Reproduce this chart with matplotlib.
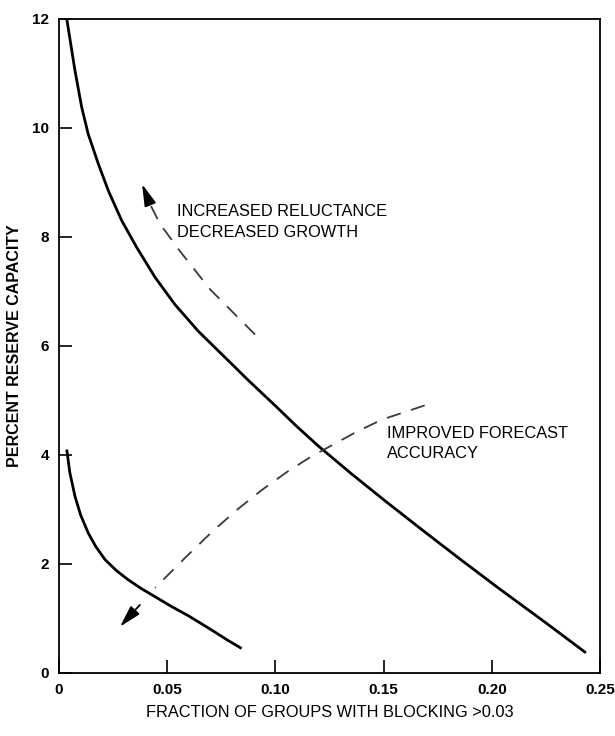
import matplotlib
matplotlib.use('Agg')
import matplotlib.pyplot as plt

plt.rcParams['font.family'] = ['Liberation Sans', 'DejaVu Sans']

# upper curve
main_x = [0.0036, 0.0074, 0.0105, 0.0135, 0.0182, 0.0228, 0.0290, 0.0359, 0.0444,
          0.0536, 0.0644, 0.0752, 0.0875, 0.0998, 0.1100, 0.1200, 0.135, 0.150,
          0.168, 0.185, 0.2037, 0.225, 0.2435]
main_y = [12.0, 11.05, 10.38, 9.89, 9.34, 8.85, 8.30, 7.81, 7.26,
          6.76, 6.27, 5.85, 5.37, 4.91, 4.52, 4.16, 3.66, 3.18,
          2.62, 2.10, 1.54, 0.92, 0.37]

# lower curve
low_x = [0.0036, 0.0050, 0.0074, 0.0100, 0.0135, 0.0170, 0.0213, 0.0265, 0.0320,
         0.038, 0.0444, 0.052, 0.0598, 0.066, 0.0721, 0.078, 0.0844]
low_y = [4.10, 3.68, 3.24, 2.90, 2.57, 2.32, 2.08, 1.88, 1.71,
         1.55, 1.40, 1.22, 1.05, 0.90, 0.75, 0.60, 0.45]

# dashed arrow paths
up_x = [0.0906, 0.0698, 0.0559, 0.0467, 0.0421]
up_y = [6.21, 7.04, 7.74, 8.24, 8.60]
up_tip = (0.0384, 8.97)

dn_x = [0.169, 0.1645, 0.1493, 0.1377, 0.1165, 0.1054, 0.0938, 0.0818, 0.0702, 0.0587, 0.0444]
dn_y = [4.91, 4.85, 4.65, 4.43, 3.97, 3.69, 3.36, 2.98, 2.57, 2.13, 1.56]
dn_start = (0.0374, 1.25)
dn_tip = (0.0282, 0.85)

xticks = [0, 0.05, 0.10, 0.15, 0.20, 0.25]
xtick_labels = ['0', '0.05', '0.10', '0.15', '0.20', '0.25']
yticks = [0, 2, 4, 6, 8, 10, 12]

fig = plt.figure(figsize=(6.15, 7.36), dpi=100)
ax = fig.add_axes([0.0959, 0.0856, 0.8797, 0.8886])

ax.plot(main_x, main_y, color='black', lw=2.0, solid_capstyle='butt', solid_joinstyle='round')
ax.plot(low_x, low_y, color='black', lw=2.0, solid_capstyle='butt', solid_joinstyle='round')

dash_col = '#3a3a3a'
ax.plot(up_x, up_y, color=dash_col, lw=1.3, ls=(0, (8, 6)))
ax.plot(dn_x, dn_y, color=dash_col, lw=1.3, ls=(0, (8, 6)))

arrow = dict(arrowstyle='-|>,head_length=0.95,head_width=0.26', mutation_scale=14,
             lw=1.3, color='black', shrinkA=0, shrinkB=0)
ax.annotate('', xy=up_tip, xytext=(up_x[-1], up_y[-1]), arrowprops=arrow)
ax.annotate('', xy=dn_tip, xytext=dn_start, arrowprops=arrow)

txt = dict(fontsize=11.8, color='black', va='center', ha='left')
ax.text(0.0545, 8.46, 'INCREASED RELUCTANCE', **txt)
ax.text(0.0545, 8.08, 'DECREASED GROWTH', **txt)
ax.text(0.1517, 4.40, 'IMPROVED FORECAST', **txt)
ax.text(0.1517, 4.03, 'ACCURACY', **txt)

ax.set_xlim(0, 0.25)
ax.set_ylim(0, 12)
ax.set_xticks(xticks)
ax.set_xticklabels(xtick_labels)
ax.set_yticks(yticks)
ax.tick_params(direction='in', length=9.4, width=1.2, pad=7, labelsize=11)
for lab in ax.get_xticklabels() + ax.get_yticklabels():
    lab.set_fontweight('bold')
for s in ax.spines.values():
    s.set_linewidth(1.3)

ax.set_xlabel('FRACTION OF GROUPS WITH BLOCKING >0.03', fontsize=11.8, va='center')
ax.xaxis.set_label_coords(0.5, -0.061)
ax.set_ylabel('PERCENT RESERVE CAPACITY', fontsize=11.5, fontweight='bold', va='center')
ax.yaxis.set_label_coords(-0.083, 0.5)

fig.savefig('out.png', dpi=100)
